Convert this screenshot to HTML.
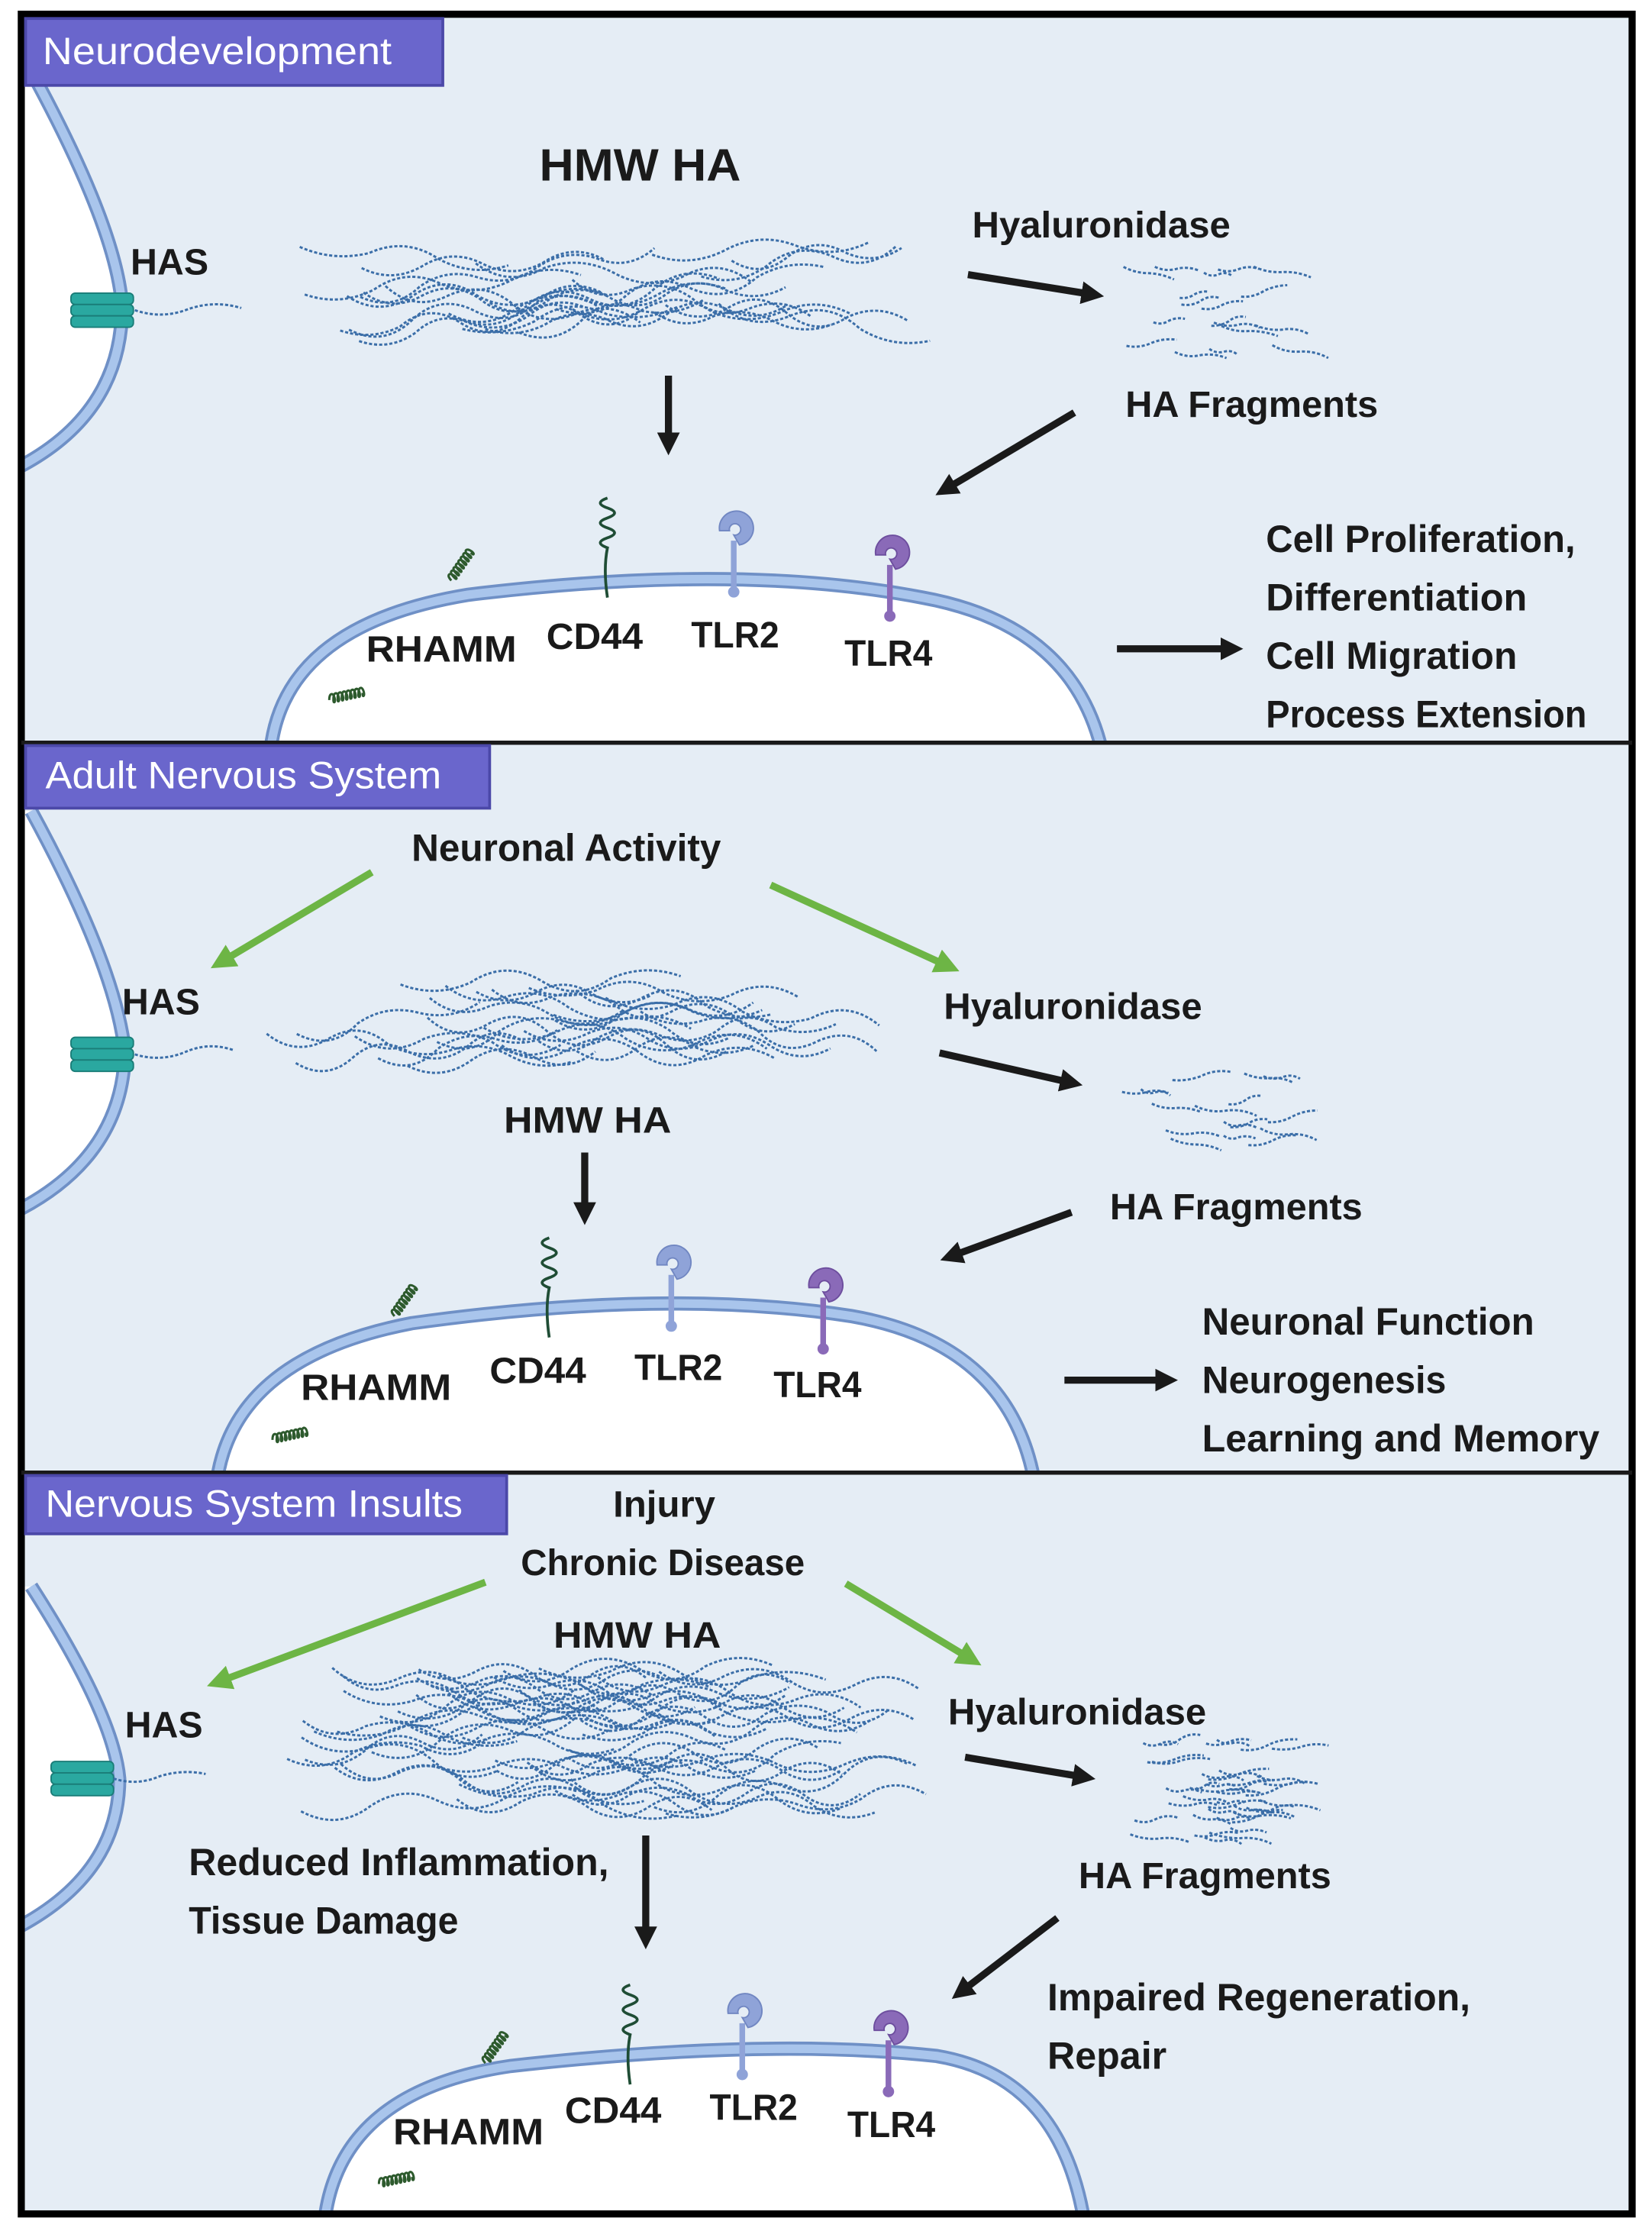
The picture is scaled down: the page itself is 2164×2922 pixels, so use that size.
<!DOCTYPE html>
<html><head><meta charset="utf-8"><style>
html,body{margin:0;padding:0;background:#fff}
svg{display:block}
text{font-family:"Liberation Sans",sans-serif;font-weight:bold;fill:#1a1a1a}
.lbl{fill:#fff;font-weight:normal}
</style></head><body>
<svg id="s" xmlns="http://www.w3.org/2000/svg" width="2164" height="2922" viewBox="0 0 1164 1568" preserveAspectRatio="none">
<defs>
<marker id="ak" viewBox="0 0 10 10" refX="5" refY="5" markerWidth="3.2" markerHeight="3.2" orient="auto"><path d="M0,0L10,5L0,10z" fill="#1a1a1a"/></marker>
<marker id="ag" viewBox="0 0 10 10" refX="5" refY="5" markerWidth="3.5" markerHeight="3.5" orient="auto"><path d="M0,0L10,5L0,10z" fill="#6db545"/></marker>
<clipPath id="c1"><rect x="17" y="12" width="1131" height="509"/></clipPath>
<clipPath id="c2"><rect x="17" y="524" width="1131" height="510"/></clipPath>
<clipPath id="c3"><rect x="17" y="1037" width="1131" height="517"/></clipPath>
</defs>
<rect x="0" y="0" width="1164" height="1568" fill="#fff"/>
<rect x="15" y="10" width="1135" height="1546" fill="#e5edf5"/>
<g id="cells"></g>
<g id="fib"></g>
<rect x="15" y="10" width="1135" height="1546" fill="none" stroke="#000" stroke-width="5"/>
<line x1="15" y1="522" x2="1150" y2="522" stroke="#1a1a1a" stroke-width="3"/>
<line x1="15" y1="1035" x2="1150" y2="1035" stroke="#1a1a1a" stroke-width="3"/>
<rect x="18" y="13" width="294" height="47" fill="#6a66cc" stroke="#4b48a8" stroke-width="2"/>
<text class="lbl" x="30" y="45" font-size="27" textLength="246" lengthAdjust="spacingAndGlyphs">Neurodevelopment</text>
<rect x="18" y="524" width="327" height="44" fill="#6a66cc" stroke="#4b48a8" stroke-width="2"/>
<text class="lbl" x="32" y="554" font-size="27" textLength="279" lengthAdjust="spacingAndGlyphs">Adult Nervous System</text>
<rect x="18" y="1037" width="339" height="41" fill="#6a66cc" stroke="#4b48a8" stroke-width="2"/>
<text class="lbl" x="32" y="1066" font-size="27" textLength="294" lengthAdjust="spacingAndGlyphs">Nervous System Insults</text>

<text x="92" y="193" font-size="26">HAS</text>
<text x="380" y="127" font-size="32" textLength="142" lengthAdjust="spacingAndGlyphs">HMW HA</text>
<text x="685" y="167" font-size="26" textLength="182" lengthAdjust="spacingAndGlyphs">Hyaluronidase</text>
<text x="793" y="293" font-size="26" textLength="178" lengthAdjust="spacingAndGlyphs">HA Fragments</text>
<text x="258" y="465" font-size="26" textLength="106" lengthAdjust="spacingAndGlyphs">RHAMM</text>
<text x="385" y="456" font-size="26" textLength="68" lengthAdjust="spacingAndGlyphs">CD44</text>
<text x="487" y="455" font-size="26" textLength="62" lengthAdjust="spacingAndGlyphs">TLR2</text>
<text x="595" y="468" font-size="26" textLength="62" lengthAdjust="spacingAndGlyphs">TLR4</text>
<text x="892" y="388" font-size="27" textLength="218" lengthAdjust="spacingAndGlyphs">Cell Proliferation,</text>
<text x="892" y="429" font-size="27" textLength="184" lengthAdjust="spacingAndGlyphs">Differentiation</text>
<text x="892" y="470" font-size="27" textLength="177" lengthAdjust="spacingAndGlyphs">Cell Migration</text>
<text x="892" y="511" font-size="27" textLength="226" lengthAdjust="spacingAndGlyphs">Process Extension</text>
<g stroke="#1a1a1a" stroke-width="5" fill="none">
<line x1="682" y1="193" x2="770" y2="207" marker-end="url(#ak)"/>
<line x1="757" y1="290" x2="666" y2="344" marker-end="url(#ak)"/>
<line x1="471" y1="264" x2="471" y2="312" marker-end="url(#ak)"/>
<line x1="787" y1="456" x2="868" y2="456" marker-end="url(#ak)"/>
</g>

<text x="86" y="713" font-size="26">HAS</text>
<text x="290" y="605" font-size="27" textLength="218" lengthAdjust="spacingAndGlyphs">Neuronal Activity</text>
<text x="665" y="716" font-size="26" textLength="182" lengthAdjust="spacingAndGlyphs">Hyaluronidase</text>
<text x="782" y="857" font-size="26" textLength="178" lengthAdjust="spacingAndGlyphs">HA Fragments</text>
<text x="355" y="796" font-size="26" textLength="118" lengthAdjust="spacingAndGlyphs">HMW HA</text>
<text x="212" y="984" font-size="26" textLength="106" lengthAdjust="spacingAndGlyphs">RHAMM</text>
<text x="345" y="972" font-size="26" textLength="68" lengthAdjust="spacingAndGlyphs">CD44</text>
<text x="447" y="970" font-size="26" textLength="62" lengthAdjust="spacingAndGlyphs">TLR2</text>
<text x="545" y="982" font-size="26" textLength="62" lengthAdjust="spacingAndGlyphs">TLR4</text>
<text x="847" y="938" font-size="27" textLength="234" lengthAdjust="spacingAndGlyphs">Neuronal Function</text>
<text x="847" y="979" font-size="27" textLength="172" lengthAdjust="spacingAndGlyphs">Neurogenesis</text>
<text x="847" y="1020" font-size="27" textLength="280" lengthAdjust="spacingAndGlyphs">Learning and Memory</text>
<g stroke="#6db545" stroke-width="5" fill="none">
<line x1="262" y1="613" x2="156" y2="676" marker-end="url(#ag)"/>
<line x1="543" y1="622" x2="668" y2="679" marker-end="url(#ag)"/>
</g>
<g stroke="#1a1a1a" stroke-width="5" fill="none">
<line x1="662" y1="740" x2="755" y2="761" marker-end="url(#ak)"/>
<line x1="755" y1="852" x2="670" y2="883" marker-end="url(#ak)"/>
<line x1="412" y1="810" x2="412" y2="853" marker-end="url(#ak)"/>
<line x1="750" y1="970" x2="822" y2="970" marker-end="url(#ak)"/>
</g>

<text x="432" y="1066" font-size="26" textLength="72" lengthAdjust="spacingAndGlyphs">Injury</text>
<text x="367" y="1107" font-size="26" textLength="200" lengthAdjust="spacingAndGlyphs">Chronic Disease</text>
<text x="390" y="1158" font-size="26" textLength="118" lengthAdjust="spacingAndGlyphs">HMW HA</text>
<text x="88" y="1221" font-size="26">HAS</text>
<text x="668" y="1212" font-size="26" textLength="182" lengthAdjust="spacingAndGlyphs">Hyaluronidase</text>
<text x="760" y="1327" font-size="26" textLength="178" lengthAdjust="spacingAndGlyphs">HA Fragments</text>
<text x="133" y="1318" font-size="27" textLength="296" lengthAdjust="spacingAndGlyphs">Reduced Inflammation,</text>
<text x="133" y="1359" font-size="27" textLength="190" lengthAdjust="spacingAndGlyphs">Tissue Damage</text>
<text x="738" y="1413" font-size="27" textLength="298" lengthAdjust="spacingAndGlyphs">Impaired Regeneration,</text>
<text x="738" y="1454" font-size="27" textLength="84" lengthAdjust="spacingAndGlyphs">Repair</text>
<text x="277" y="1507" font-size="26" textLength="106" lengthAdjust="spacingAndGlyphs">RHAMM</text>
<text x="398" y="1492" font-size="26" textLength="68" lengthAdjust="spacingAndGlyphs">CD44</text>
<text x="500" y="1490" font-size="26" textLength="62" lengthAdjust="spacingAndGlyphs">TLR2</text>
<text x="597" y="1502" font-size="26" textLength="62" lengthAdjust="spacingAndGlyphs">TLR4</text>
<g stroke="#6db545" stroke-width="5" fill="none">
<line x1="342" y1="1112" x2="154" y2="1182" marker-end="url(#ag)"/>
<line x1="596" y1="1113" x2="684" y2="1166" marker-end="url(#ag)"/>
</g>
<g stroke="#1a1a1a" stroke-width="5" fill="none">
<line x1="680" y1="1235" x2="764" y2="1249" marker-end="url(#ak)"/>
<line x1="455" y1="1290" x2="455" y2="1362" marker-end="url(#ak)"/>
<line x1="745" y1="1348" x2="677" y2="1400" marker-end="url(#ak)"/>
</g>
</svg>
<script>
(function(){
var NS="http://www.w3.org/2000/svg";
var cells=document.getElementById("cells"), fib=document.getElementById("fib");
function el(tag,attrs,parent){var e=document.createElementNS(NS,tag);for(var k in attrs)e.setAttribute(k,attrs[k]);(parent||cells).appendChild(e);return e;}
function mem(d,close,clip){var g=el("g",{"clip-path":"url(#"+clip+")"});el("path",{d:d+close,fill:"#fff"},g);el("path",{d:d,fill:"none",stroke:"#6f90c6","stroke-width":10},g);el("path",{d:d,fill:"none",stroke:"#a9c5ec","stroke-width":6},g);}
mem("M22,50 Q82,160 86,215 Q86,292 10,330"," L10,50 Z","c1");
mem("M22,570 Q82,680 88,740 Q86,814 10,852"," L10,570 Z","c2");
mem("M22,1115 Q80,1205 84,1250 Q84,1318 10,1356"," L10,1115 Z","c3");
mem("M190,535 Q195,440 330,418 Q520,395 650,420 Q760,440 778,535"," Z","c1");
mem("M152,1048 Q160,955 290,930 Q470,905 600,925 Q715,945 730,1048"," Z","c2");
mem("M228,1568 Q235,1470 360,1452 Q540,1432 660,1445 Q750,1460 765,1568"," Z","c3");
function has(x,y){for(var i=0;i<3;i++)el("rect",{x:x-22,y:y-12+i*8,width:44,height:8,rx:3,fill:"#2aa8a0",stroke:"#1a7d78","stroke-width":1});}
has(72,218);has(72,741);has(58,1250);
function coil(x,y,n,ang){var d="M0,0";for(var i=0;i<n;i++){d+=" c1,-5 4,-5 4,0 c0,3 -2,3 -1,0";}
 el("path",{d:d,fill:"none",stroke:"#2d5a2d","stroke-width":1.6,transform:"translate("+x+","+y+") rotate("+ang+")"});}
function recs(r,c,t2,t4){
 coil(r[0],r[1],8,-55);coil(r[2],r[3],8,-12);
 var x=c[0],y=c[1];var p="M"+x+","+(y+70)+" Q"+(x-3)+","+(y+50)+" "+x+","+(y+35);
 for(var i=0;i<5;i++){p+=" q"+(i%2?10:-10)+",-3.5 0,-7";}
 el("path",{d:p,fill:"none",stroke:"#1f4d35","stroke-width":2});
 function tlr(x,y,col,dk){el("line",{x1:x,y1:y+12,x2:x,y2:y+48,stroke:col,"stroke-width":4});el("circle",{cx:x,cy:y+48,r:4,fill:col});
  el("path",{d:"M"+(x-10)+","+(y+5)+" a12,12 0 1,1 14,10 l-4,-7 a4,4 0 1,0 -3,-3 z",fill:col,stroke:dk,"stroke-width":1});}
 tlr(t2[0],t2[1],"#8fa3d8","#7187c2");tlr(t4[0],t4[1],"#8a6ab8","#6d4e9e");
}
recs([318,408,232,492],[428,350],[517,368],[627,385]);
recs([278,925,192,1012],[387,870],[473,884],[580,900]);
recs([342,1450,267,1535],[444,1395],[523,1410],[626,1422]);
var seed=7;function rnd(){seed=(seed*16807)%2147483647;return (seed-1)/2147483646;}
function wavy(x0,y0,len,amp,ang){var d="M"+x0.toFixed(1)+","+y0.toFixed(1);var n=Math.max(2,Math.round(len/45));var ca=Math.cos(ang),sa=Math.sin(ang);
 for(var i=1;i<=n;i++){var t=i*len/n;var off=(i%2?1:-1)*amp*(0.6+rnd()*0.6);var tm=(i-0.5)*len/n;
  var cx=x0+tm*ca-off*sa,cy=y0+tm*sa+off*ca,ex=x0+t*ca,ey=y0+t*sa;d+=" Q"+cx.toFixed(1)+","+cy.toFixed(1)+" "+ex.toFixed(1)+","+ey.toFixed(1);}
 el("path",{d:d,fill:"none",stroke:"#3b6ea8","stroke-width":1.6,"stroke-dasharray":"2.2 1.4"},fib);}
function mesh(x0,x1,y0,y1,n,minL,maxL){for(var i=0;i<n;i++){var L=minL+rnd()*(maxL-minL);var x=x0+rnd()*Math.max(1,(x1-x0-L));var a=(rnd()-0.5)*0.35;var y=y0+10+rnd()*(y1-y0-20);var dy=Math.sin(a)*L;if(y+dy>y1-8||y+dy<y0+8)a=-a;wavy(x,y,L,14,a);}}
mesh(208,662,158,250,26,120,220);
mesh(182,632,678,762,24,120,220);
mesh(200,662,1162,1285,55,120,230);
wavy(95,218,75,6,-0.02);wavy(95,741,70,6,-0.04);wavy(80,1250,65,6,-0.05);
function frags(x0,x1,y0,y1,n){for(var i=0;i<n;i++){var x=x0+rnd()*(x1-x0-35),y=y0+rnd()*(y1-y0);wavy(x,y,20+rnd()*25,3,(rnd()-0.5)*0.5);}}
frags(790,935,185,250,18);frags(785,930,750,815,16);frags(795,935,1222,1292,40);
})();
</script>
</body></html>
